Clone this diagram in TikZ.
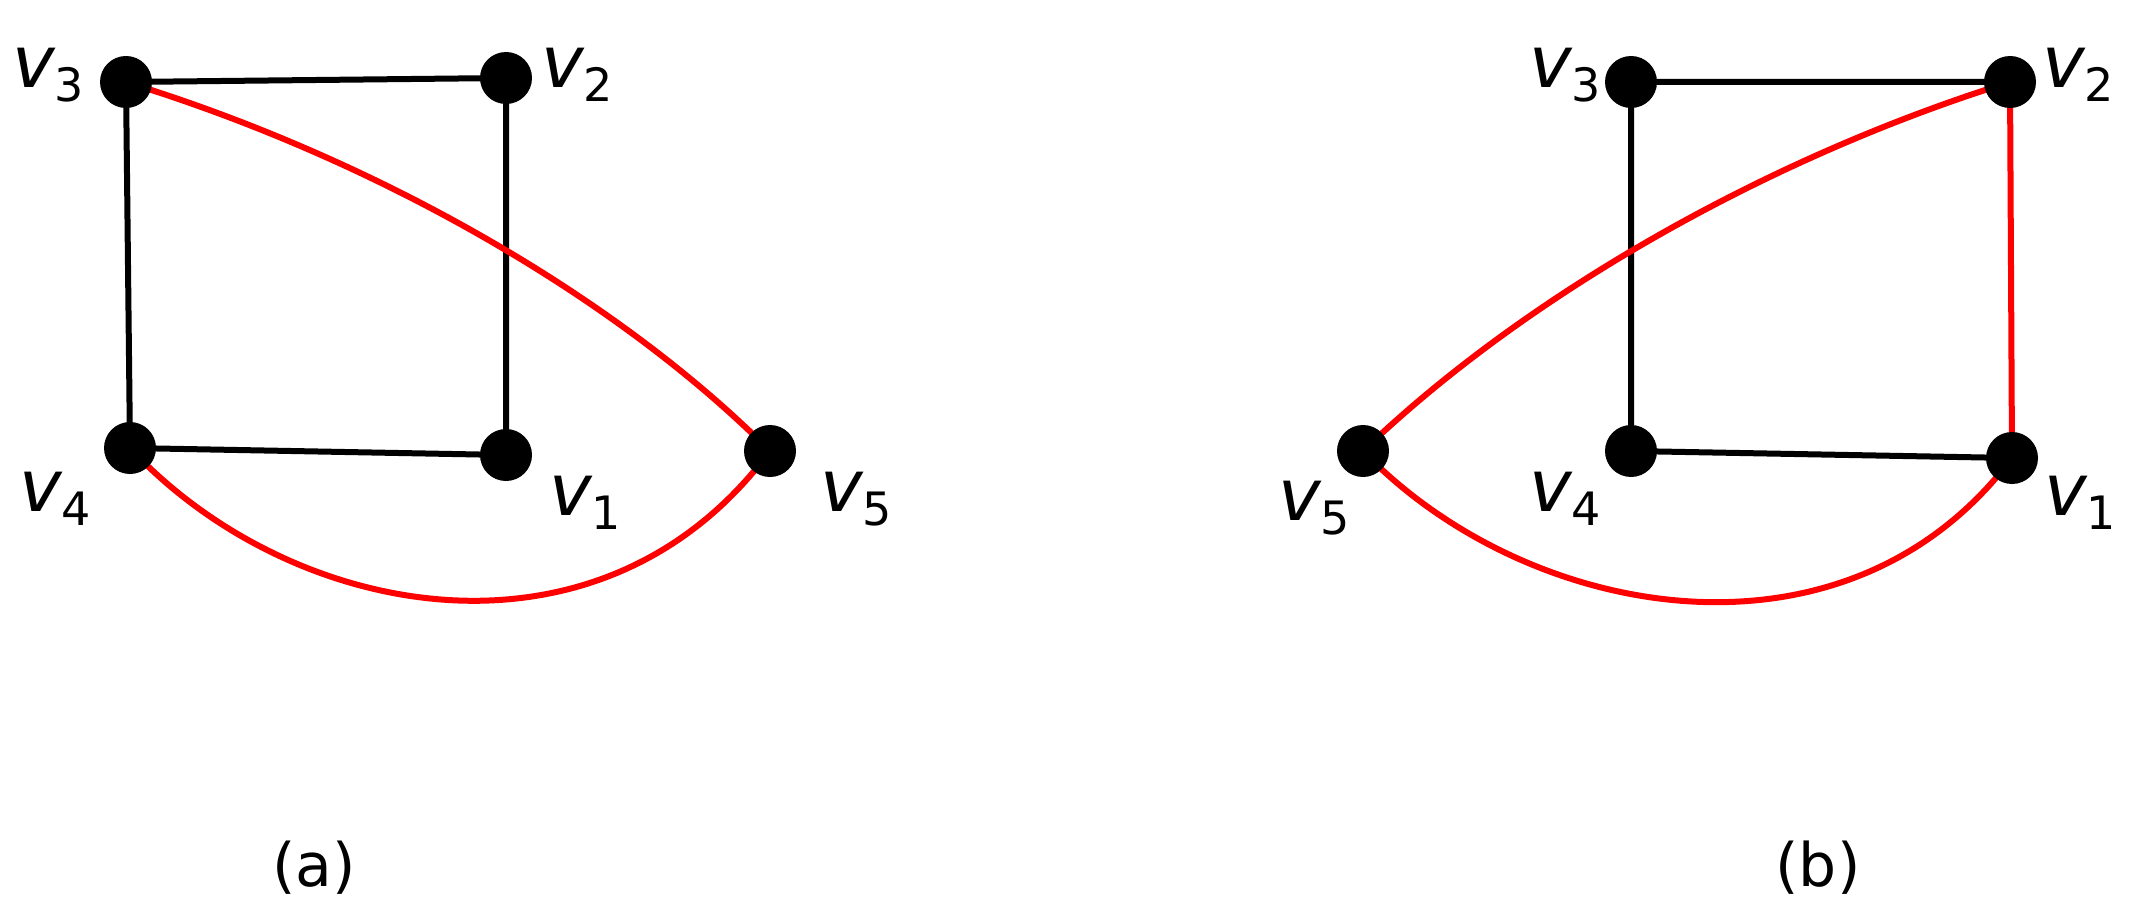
\documentclass[tikz,border=0pt]{standalone}
\usepackage{fontspec}
\setmainfont{DejaVu Sans}
\newcommand{\vl}[1]{{\fontsize{72}{74}\selectfont\itshape v}\raisebox{-14pt}{\fontsize{46}{48}\selectfont #1}}
\begin{document}
\begin{tikzpicture}[x=1pt,y=-1pt,
  vtx/.style={circle,fill=black,minimum size=52pt,inner sep=0pt},
  lab/.style={inner sep=0pt},
  captxt/.style={font=\fontsize{60}{62}\selectfont,inner sep=0pt},
  blk/.style={line width=6pt,black},
  rd/.style={line width=6pt,red}]
\useasboundingbox (0,0) rectangle (2144,920);
% (a)
\coordinate (a3) at (126,82); \coordinate (a2) at (506,78);
\coordinate (a4) at (130,448); \coordinate (a1) at (506,455);
\coordinate (a5) at (770,451);
\draw[blk] (a3)--(a2) (a2)--(a1) (a1)--(a4) (a4)--(a3);
\draw[rd] (a3) .. controls (380,160) and (620,300) .. (a5);
\draw[rd] (a4) .. controls (290,620) and (600,680) .. (a5);
\foreach \n in {a1,a2,a3,a4,a5} \node[vtx] (n\n) at (\n) {};
\node[lab] (la3) at (48,75) {\vl{3}};
\node[lab] (la2) at (577,75) {\vl{2}};
\node[lab] (la4) at (55,499) {\vl{4}};
\node[lab] (la1) at (585,503) {\vl{1}};
\node[lab] (la5) at (856,499) {\vl{5}};
\node[captxt] (ca) at (314,868) {(a)};
% (b)
\coordinate (b3) at (1631,82); \coordinate (b2) at (2010,82);
\coordinate (b4) at (1631,451); \coordinate (b1) at (2012,458);
\coordinate (b5) at (1363,451);
\draw[blk] (b3)--(b2) (b3)--(b4) (b4)--(b1);
\draw[rd] (b2)--(b1);
\draw[rd] (b5) .. controls (1520,300) and (1760,160) .. (b2);
\draw[rd] (b5) .. controls (1525,620) and (1845,680) .. (b1);
\foreach \n in {b1,b2,b3,b4,b5} \node[vtx] (n\n) at (\n) {};
\node[lab] (lb3) at (1565,75) {\vl{3}};
\node[lab] (lb2) at (2078,75) {\vl{2}};
\node[lab] (lb4) at (1565,499) {\vl{4}};
\node[lab] (lb5) at (1314,508) {\vl{5}};
\node[lab] (lb1) at (2080,503) {\vl{1}};
\node[captxt] (cb) at (1818,868) {(b)};
\end{tikzpicture}
\end{document}
